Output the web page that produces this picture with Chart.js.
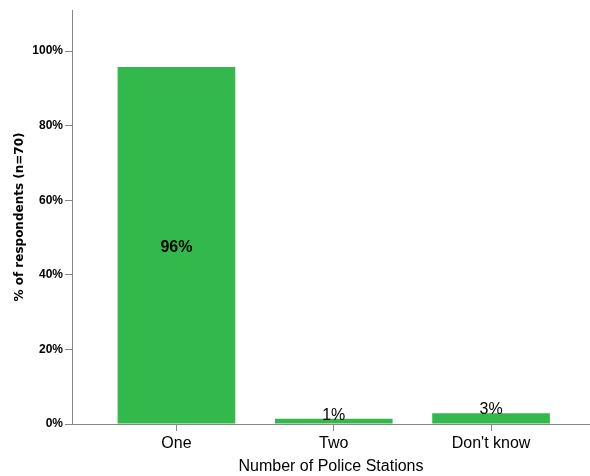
<!DOCTYPE html>
<html>
<head>
<meta charset="utf-8">
<script src="https://cdn.jsdelivr.net/npm/chart.js@4/dist/chart.umd.min.js"></script>
<style>
  html, body { margin: 0; padding: 0; background: #fff; }
  #wrap { width: 590px; height: 476px; }
</style>
</head>
<body>
<div id="wrap"><canvas id="myChart"></canvas></div>
<script>
const categories = ['One', 'Two', "Don't know"];
const percents = [95.71, 1.43, 2.86];
const valueLabels = ['96%', '1%', '3%'];
const yTicks = [0, 20, 40, 60, 80, 100];

const barColor = '#33b84b';
const axisColor = '#888888';

// draws the % labels on / above the bars
const barLabels = {
    id: 'barLabels',
    afterDatasetsDraw(chart) {
        const ctx = chart.ctx;
        const meta = chart.getDatasetMeta(0);
        ctx.save();
        ctx.fillStyle = '#000';
        ctx.textAlign = 'center';
        meta.data.forEach((bar, i) => {
            if (percents[i] > 10) {
                ctx.font = 'bold 16px "Liberation Sans", Arial, sans-serif';
                ctx.textBaseline = 'middle';
                ctx.fillText(valueLabels[i], bar.x, (bar.y + bar.base) / 2 + 2);
            } else {
                ctx.font = '16px "Liberation Sans", Arial, sans-serif';
                ctx.textBaseline = 'alphabetic';
                ctx.fillText(valueLabels[i], bar.x, bar.y + 1);
            }
        });
        ctx.restore();
    }
};

const ctx = document.getElementById('myChart').getContext('2d');
const myChart = new Chart(ctx, {
    type: 'bar',
    data: {
        datasets: [{
            data: percents.map((p, i) => ({ x: i, y: p })),
            backgroundColor: barColor,
            borderWidth: 0,
            categoryPercentage: 1,
            barPercentage: 0.748
        }]
    },
    options: {
        responsive: true,
        maintainAspectRatio: false,
        animation: false,
        layout: { padding: { top: 10, right: 0, left: 0, bottom: 0 } },
        plugins: {
            legend: { display: false },
            tooltip: { enabled: false }
        },
        scales: {
            x: {
                type: 'linear',
                offset: false,
                min: -0.664,
                max: 2.629,
                afterBuildTicks: scale => {
                    scale.ticks = categories.map((c, i) => ({ value: i }));
                },
                afterFit: scale => { scale.height = 52; },
                border: { color: axisColor, width: 1 },
                grid: { offset: false, drawOnChartArea: false, drawTicks: true, tickLength: 7, color: axisColor },
                ticks: {
                    color: '#000',
                    padding: 3,
                    font: { family: '"Liberation Sans", Arial, sans-serif', size: 16 },
                    callback: v => categories[v]
                },
                title: {
                    display: true,
                    text: 'Number of Police Stations',
                    color: '#000',
                    font: { family: '"Liberation Sans", Arial, sans-serif', size: 16 },
                    padding: { top: 0, bottom: 0 }
                }
            },
            y: {
                min: 0,
                max: 111,
                afterBuildTicks: scale => {
                    scale.ticks = yTicks.map(v => ({ value: v }));
                },
                afterFit: scale => { scale.width = 72; },
                border: { color: axisColor, width: 1 },
                grid: { drawOnChartArea: false, drawTicks: true, tickLength: 7, color: axisColor },
                ticks: {
                    color: '#000',
                    padding: 2,
                    font: { family: '"Liberation Sans Narrow", "Liberation Sans", Arial, sans-serif', size: 12, weight: 'bold' },
                    callback: v => v + '%'
                },
                title: {
                    display: true,
                    text: '% of respondents (n=70)',
                    color: '#000',
                    font: { family: '"DejaVu Sans", sans-serif', size: 12, weight: 'bold' },
                    padding: { top: 13, bottom: 0 }
                }
            }
        }
    },
    plugins: [barLabels]
});
</script>
</body>
</html>
